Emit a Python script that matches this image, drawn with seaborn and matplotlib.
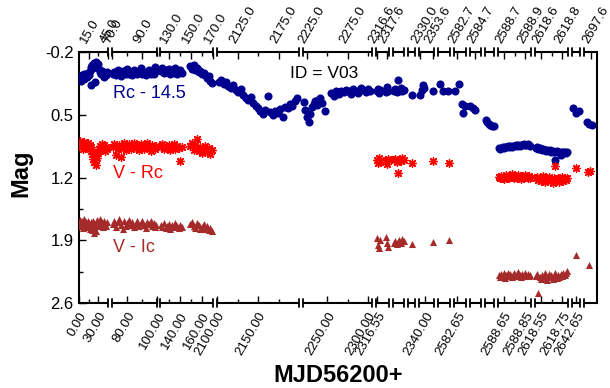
import numpy as np
import pandas as pd
import matplotlib
matplotlib.use("Agg")
import matplotlib.pyplot as plt
import seaborn as sns

# ---------------- data (MJD - 56200, magnitude) ----------------
# early season: shared epochs for Rc, V-Rc, V-Ic
e1 = [0.5, 1.8, 3.0, 4.3, 5.6, 7.0, 8.4, 9.8, 11.2, 12.6, 14.0, 15.4, 16.8, 18.0, 19.2, 20.4,
      21.6, 22.8, 24.0, 25.2, 26.4, 27.6, 29.0, 30.5, 32.0, 33.6, 35.2, 36.8, 38.4, 40.0, 41.6, 43.2]
r1 = [0.11, 0.08, 0.12, 0.06, 0.09, 0.05, 0.10, 0.07, 0.04, 0.08, 0.03, 0.06, 0.01, -0.03, 0.17, -0.06,
      -0.02, -0.08, -0.05, 0.13, -0.09, -0.04, -0.07, -0.01, 0.02, 0.05, 0.01, 0.04, 0.08, 0.03, 0.06, 0.02]
v1 = [0.84, 0.79, 0.86, 0.82, 0.88, 0.85, 0.80, 0.87, 0.83, 0.86, 0.81, 0.88, 0.84, 0.90, 0.86, 0.94,
      0.99, 0.92, 1.03, 0.96, 1.06, 0.98, 0.93, 0.88, 0.85, 0.89, 0.83, 0.87, 0.84, 0.90, 0.86, 0.88]
i1 = [1.71, 1.67, 1.74, 1.69, 1.76, 1.72, 1.66, 1.73, 1.70, 1.75, 1.68, 1.72, 1.77, 1.70, 1.74, 1.79,
      1.69, 1.82, 1.75, 1.72, 1.80, 1.67, 1.74, 1.71, 1.66, 1.73, 1.70, 1.75, 1.69, 1.72, 1.74, 1.70]

e2 = [70.4, 71.5, 72.6, 73.7, 74.8, 75.9, 77.0, 78.1, 79.2, 80.3, 81.4, 82.5, 83.6, 84.7, 85.8, 86.9,
      88.0, 89.1, 90.2, 91.3, 92.4, 93.5, 94.6, 95.7, 96.8, 97.9, 98.8, 99.6]
r2 = [0.05, 0.02, 0.06, 0.00, 0.04, 0.07, 0.01, 0.03, 0.05, -0.01, 0.04, 0.02, 0.06, 0.00, 0.03, 0.05,
      0.01, -0.02, 0.04, 0.02, 0.06, 0.03, 0.00, 0.05, 0.02, 0.04, -0.03, 0.01]
v2 = [0.86, 0.83, 0.95, 0.88, 0.84, 0.97, 0.87, 0.82, 0.89, 0.85, 0.83, 0.88, 0.86, 0.81, 0.87, 0.84,
      0.89, 0.83, 0.86, 0.88, 0.85, 0.82, 0.87, 0.90, 0.84, 0.86, 0.88, 0.85]
i2 = [1.72, 1.68, 1.75, 1.70, 1.66, 1.73, 1.77, 1.69, 1.74, 1.71, 1.67, 1.73, 1.70, 1.75, 1.72, 1.68,
      1.74, 1.71, 1.69, 1.73, 1.76, 1.70, 1.72, 1.68, 1.74, 1.71, 1.75, 1.73]

e3 = [122.5, 124.0, 125.5, 127.0, 128.5, 130.0, 131.5, 133.0, 134.5, 136.0, 137.5, 139.0, 140.5, 142.0,
      149.5, 151.0, 152.5, 154.0, 155.5, 157.0, 158.5, 160.0, 161.5, 163.0, 164.5, 166.0, 167.5, 169.0]
r3 = [0.01, -0.02, 0.03, 0.00, 0.02, -0.01, 0.04, 0.01, 0.03, -0.02, 0.05, 0.02, 0.00, 0.03,
      -0.04, -0.01, -0.05, 0.00, -0.02, 0.02, 0.01, 0.04, 0.03, 0.06, 0.09, 0.07, 0.12, 0.15]
v3 = [0.86, 0.83, 0.88, 0.85, 0.87, 0.84, 0.89, 0.86, 0.83, 0.88, 0.85, 0.87, 1.02, 0.86,
      0.85, 0.81, 0.89, 0.84, 0.77, 0.90, 0.86, 0.93, 0.88, 0.85, 0.91, 0.87, 0.94, 0.89]
i3 = [1.73, 1.75, 1.71, 1.76, 1.74, 1.72, 1.77, 1.73, 1.75, 1.71, 1.74, 1.76, 1.73, 1.75,
      1.72, 1.70, 1.74, 1.76, 1.71, 1.73, 1.78, 1.75, 1.72, 1.77, 1.74, 1.79, 1.76, 1.80]

# Rc only (no colour data)
s4_t = [2102, 2105, 2108, 2111, 2114, 2117, 2120, 2123, 2126, 2129, 2132, 2135, 2138, 2141, 2144, 2147,
        2150, 2153, 2156, 2159, 2162, 2165, 2168, 2171, 2174, 2177, 2180, 2183, 2186, 2189, 2192, 2195, 2198]
s4_m = [0.14, 0.11, 0.16, 0.13, 0.18, 0.20, 0.17, 0.22, 0.25, 0.21, 0.28, 0.31, 0.34, 0.30, 0.37, 0.40,
        0.43, 0.46, 0.49, 0.45, 0.29, 0.47, 0.50, 0.46, 0.48, 0.44, 0.52, 0.41, 0.43, 0.38, 0.40, 0.35, 0.31]
s5_t = [2221, 2223, 2225, 2227, 2229, 2231, 2233, 2235, 2237, 2239, 2241, 2244, 2247, 2255, 2258,
        2261, 2264, 2267, 2270, 2273, 2276, 2279, 2282, 2285, 2288, 2291, 2294, 2297, 2300, 2303]
s5_m = [0.36, 0.45, 0.52, 0.58, 0.49, 0.41, 0.38, 0.35, 0.39, 0.33, 0.31, 0.37, 0.46, 0.26, 0.29,
        0.24, 0.27, 0.23, 0.25, 0.22, 0.24, 0.27, 0.21, 0.23, 0.26, 0.20, 0.22, 0.25, 0.21, 0.23]

# late season
e6 = [2316.5, 2316.6, 2316.7, 2316.8, 2317.5, 2317.6, 2317.7]
r6 = [0.24, 0.21, 0.26, 0.22, 0.25, 0.19, 0.23]
v6 = [1.00, 1.04, 0.98, 1.03, 1.01, 1.05, 0.99]
i6 = [1.88, 1.95, 1.99, 1.90, 1.86, 1.93, 1.97]
e7 = [2318.5, 2318.65, 2318.8, 2318.95, 2319.1, 2319.25, 2319.4, 2319.55]
r7 = [0.24, 0.21, 0.25, 0.11, 0.23, 0.20, 0.24, 0.22]
v7 = [1.01, 0.99, 1.03, 1.15, 1.00, 1.02, 0.98, 1.01]
i7 = [1.93, 1.91, 1.94, 1.92, 1.90, 1.93, 1.89, 1.91]
e8 = [2322.0]
r8 = [0.28]
v8 = [1.04]
i8 = [1.94]
e9r = [2330.0, 2333.0, 2336.0, 2338.0, 2355.0]
r9 = [0.28, 0.22, 0.17, 0.20, 0.24]
e9c = [2355.0]
v9 = [1.02]
i9 = [1.92]
e10r = [2371.0, 2375.0, 2381.0]
r10 = [0.16, 0.24, 0.23]
e10c = [2381.5]
v10 = [1.04]
i10 = [1.90]
e11 = [2582.617, 2582.683, 2582.733, 2582.75, 2582.783]
r11 = [0.24, 0.16, 0.38, 0.48, 0.40]
e12 = [2584.60, 2584.655, 2584.69]
r12 = [0.40, 0.43, 0.45]
e13 = [2586.62, 2586.65, 2586.69, 2586.72, 2586.76, 2586.79]
r13 = [0.56, 0.58, 0.60, 0.61, 0.62, 0.63]

e14 = [2588.605, 2588.617, 2588.629, 2588.641, 2588.653, 2588.665, 2588.677, 2588.689, 2588.701,
       2588.713, 2588.725, 2588.737, 2588.749, 2588.761, 2588.773, 2588.785, 2588.797, 2588.809,
       2588.821, 2588.833, 2588.845, 2588.857, 2588.869, 2588.881, 2588.893]
r14 = [0.87, 0.88, 0.87, 0.86, 0.87, 0.86, 0.86, 0.85, 0.86, 0.85, 0.86, 0.85, 0.85, 0.84, 0.85,
       0.84, 0.85, 0.84, 0.84, 0.83, 0.84, 0.84, 0.83, 0.84, 0.85]
v14 = [1.19, 1.21, 1.18, 1.20, 1.22, 1.19, 1.17, 1.20, 1.21, 1.18, 1.16, 1.19, 1.21, 1.18, 1.20,
       1.17, 1.19, 1.22, 1.18, 1.20, 1.17, 1.19, 1.21, 1.18, 1.20]
i14 = [2.29, 2.31, 2.28, 2.30, 2.27, 2.32, 2.29, 2.26, 2.30, 2.28, 2.31, 2.29, 2.27, 2.30, 2.28,
       2.25, 2.29, 2.31, 2.28, 2.30, 2.27, 2.29, 2.28, 2.30, 2.29]

e15 = [2618.505, 2618.517, 2618.529, 2618.541, 2618.553, 2618.565, 2618.577, 2618.589, 2618.601,
       2618.613, 2618.625, 2618.637, 2618.649, 2618.661, 2618.673, 2618.685, 2618.697, 2618.709,
       2618.721, 2618.733, 2618.745, 2618.757, 2618.769, 2618.781, 2618.793]
r15 = [0.87, 0.86, 0.88, 0.87, 0.88, 0.89, 0.88, 0.89, 0.90, 0.89, 0.90, 0.89, 0.91, 0.90, 0.91,
       1.00, 0.90, 0.92, 0.91, 0.95, 0.92, 0.91, 0.92, 0.93, 0.92]
v15 = [1.21, 1.19, 1.23, 1.20, 1.24, 1.22, 1.18, 1.25, 1.21, 1.23, 1.19, 1.24, 1.22, 1.26, 1.20,
       1.07, 1.23, 1.21, 1.25, 1.22, 1.19, 1.24, 1.21, 1.23, 1.20]
i15 = [2.30, 2.28, 2.49, 2.31, 2.33, 2.29, 2.32, 2.27, 2.30, 2.34, 2.28, 2.31, 2.29, 2.33, 2.30,
       2.27, 2.32, 2.29, 2.31, 2.28, 2.30, 2.26, 2.29, 2.27, 2.24]

e16r = [2642.61, 2642.645, 2642.69]
r16 = [0.43, 0.48, 0.46]
e16c = [2642.645]
v16 = [1.09]
i16 = [2.07]
e17r = [2697.55, 2697.58, 2697.62]
r17 = [0.58, 0.60, 0.61]
e17v = [2697.56, 2697.59]
v17 = [1.14, 1.13]
e17i = [2697.58]
i17 = [2.18]

RC_ERR = 0.03

BOTTOM_TICKS = [0, 30, 80, 100, 140, 160, 2100, 2150, 2250, 2300, 2316.55, 2340, 2582.65,
                2588.65, 2588.85, 2618.55, 2618.75, 2642.65]
BOTTOM_LABELS = ["0.00", "30.00", "80.00", "100.00", "140.00", "160.00", "2100.00", "2150.00",
                 "2250.00", "2300.00", "2316.55", "2340.00", "2582.65", "2588.65", "2588.85",
                 "2618.55", "2618.75", "2642.65"]
TOP_TICKS = [15, 45, 70, 90, 130, 150, 170, 2125, 2175, 2225, 2275, 2316.55, 2317.6, 2330, 2353.6,
             2582.65, 2584.7, 2588.65, 2588.85, 2618.55, 2618.75, 2697.6]
TOP_LABELS = ["15.0", "45.0", "70.0", "90.0", "130.0", "150.0", "170.0", "2125.0", "2175.0", "2225.0",
              "2275.0", "2316.6", "2317.6", "2330.0", "2353.6", "2582.7", "2584.7", "2588.7",
              "2588.9", "2618.6", "2618.8", "2697.6"]
BOTTOM_MINOR = [15, 90, 130, 150, 2125, 2175, 2275, 2588.75, 2618.65]
TOP_MINOR = [30, 80, 100, 140, 160, 2150, 2250, 2300, 2588.75, 2618.65]
Y_TICKS = [-0.2, 0.5, 1.2, 1.9, 2.6]
Y_LABELS = ["-0.2", "0.5", "1.2", "1.9", "2.6"]
Y_MINOR = [0.15, 0.85, 1.55, 2.25]

# ---------------- layout of the broken axis: (data_lo, data_hi, px_lo, px_hi) ----------------
SEGMENTS = [
    (0, 45, 79, 108), (70, 100, 112, 157), (122, 170, 160, 213), (2100, 2200, 217, 299),
    (2220, 2305, 303, 372), (2316.4, 2317.8, 376, 389), (2318.4, 2319.6, 393, 404),
    (2321.5, 2322.5, 408, 415), (2328, 2356, 419, 434), (2369, 2383, 438, 450),
    (2582.6, 2582.8, 454, 466), (2584.6, 2584.8, 470, 481), (2586.6, 2586.8, 485, 494),
    (2588.6, 2588.9, 498, 531), (2618.5, 2618.8, 535, 568), (2642.6, 2642.7, 572, 580),
    (2697.5, 2697.7, 584, 597),
]
d_knots = np.array([v for s in SEGMENTS for v in s[:2]], float)
p_knots = np.array([v for s in SEGMENTS for v in s[2:]], float)


def fwd(x):
    return np.interp(np.asarray(x, float), d_knots, p_knots)


def inv(p):
    return np.interp(np.asarray(p, float), p_knots, d_knots)


NAVY = "#00008f"
RED = "#ff0000"
BROWN = "#a52a2a"

rc = pd.DataFrame({"MJD": e1 + e2 + e3 + s4_t + s5_t + e6 + e7 + e8 + e9r + e10r + e11 + e12 + e13
                   + e14 + e15 + e16r + e17r,
                   "Mag": r1 + r2 + r3 + s4_m + s5_m + r6 + r7 + r8 + r9 + r10 + r11 + r12 + r13
                   + r14 + r15 + r16 + r17})
vr = pd.DataFrame({"MJD": e1 + e2 + e3 + e6 + e7 + e8 + e9c + e10c + e14 + e15 + e16c + e17v,
                   "Mag": v1 + v2 + v3 + v6 + v7 + v8 + v9 + v10 + v14 + v15 + v16 + v17})
vi = pd.DataFrame({"MJD": e1 + e2 + e3 + e6 + e7 + e8 + e9c + e10c + e14 + e15 + e16c + e17i,
                   "Mag": i1 + i2 + i3 + i6 + i7 + i8 + i9 + i10 + i14 + i15 + i16 + i17})

sns.set_theme(style="white")
plt.rcParams["font.family"] = ["Liberation Sans", "DejaVu Sans"]
plt.rcParams["text.color"] = "black"
plt.rcParams["axes.labelcolor"] = "black"
plt.rcParams["xtick.color"] = "black"
plt.rcParams["ytick.color"] = "black"
plt.rcParams["axes.edgecolor"] = "black"

W, H = 610, 388
fig = plt.figure(figsize=(W / 100, H / 100), dpi=100)
ax = fig.add_axes([79 / W, (H - 303) / H, (597 - 79) / W, (303 - 52) / H])

ax.errorbar(rc["MJD"], rc["Mag"], yerr=RC_ERR, fmt="none", ecolor=NAVY, elinewidth=0.9, zorder=2)
sns.scatterplot(data=rc, x="MJD", y="Mag", ax=ax, color=NAVY, s=34, linewidth=0, zorder=3)
sns.scatterplot(data=vr, x="MJD", y="Mag", ax=ax, color=RED, marker=(8, 2, 0), s=30, linewidth=1.0, zorder=3)
sns.scatterplot(data=vi, x="MJD", y="Mag", ax=ax, color=BROWN, marker="^", s=26, linewidth=0, zorder=3)

ax.set_xscale("function", functions=(fwd, inv))
XLIM = (SEGMENTS[0][0], SEGMENTS[-1][1])
ax.set_xlim(*XLIM)
ax.set_ylim(2.6, -0.2)

# y axis
ax.set_yticks(Y_TICKS)
ax.set_yticklabels(Y_LABELS)
ax.set_yticks(Y_MINOR, minor=True)
ax.tick_params(axis="y", which="major", direction="in", length=5, width=1, labelsize=12, pad=4,
               colors="black", left=True)
ax.tick_params(axis="y", which="minor", direction="in", length=3, width=1, left=True, colors="black")

# bottom axis
ax.set_xticks(BOTTOM_TICKS)
ax.set_xticklabels(BOTTOM_LABELS, rotation=60, ha="right", va="top", rotation_mode="anchor", fontsize=9.5)
ax.set_xticks(BOTTOM_MINOR, minor=True)
ax.tick_params(axis="x", which="major", direction="in", length=5, width=1, pad=5, bottom=True, colors="black")
ax.tick_params(axis="x", which="minor", direction="in", length=3, width=1, bottom=True, colors="black")

# top axis
ax2 = ax.twiny()
ax2.set_xscale("function", functions=(fwd, inv))
ax2.set_xlim(*XLIM)
ax2.set_xticks(TOP_TICKS)
ax2.set_xticklabels(TOP_LABELS, rotation=60, ha="left", va="bottom", rotation_mode="anchor", fontsize=9.5)
ax2.set_xticks(TOP_MINOR, minor=True)
ax2.tick_params(axis="x", which="major", direction="in", length=5, width=1, pad=5, top=True, colors="black")
ax2.tick_params(axis="x", which="minor", direction="in", length=3, width=1, top=True, colors="black")
for sp in ax2.spines.values():
    sp.set_visible(False)

for name in ("top", "bottom"):
    ax.spines[name].set_visible(False)
for name in ("left", "right"):
    ax.spines[name].set_linewidth(1.5)
    ax.spines[name].set_color("black")

# broken axis lines with break marks
xt = ax.get_xaxis_transform()
for k, (lo, hi, plo, phi) in enumerate(SEGMENTS):
    for yy in (0, 1):
        ax.plot([lo, hi], [yy, yy], transform=xt, color="black", lw=1.5, clip_on=False,
                solid_capstyle="butt", zorder=5)
        ends = []
        if k > 0:
            ends.append(lo)
        if k < len(SEGMENTS) - 1:
            ends.append(hi)
        for xx in ends:
            ax.plot([xx, xx], [yy - 0.017, yy + 0.017], transform=xt, color="black", lw=1.3,
                    clip_on=False, zorder=5)

# labels
ax.set_xlabel("MJD56200+", fontsize=17, fontweight="bold", va="center", color="black")
ax.xaxis.set_label_coords(0.5, (303 - 376) / 251)
ax.set_ylabel("Mag", fontsize=17, fontweight="bold", va="center", color="black")
ax.yaxis.set_label_coords((21 - 79) / 518, (303 - 173) / 251)

ax.text((113 - 79) / 518, (303 - 93) / 251, "Rc - 14.5", transform=ax.transAxes, color=NAVY,
        fontsize=13, ha="left", va="center")
ax.text((113 - 79) / 518, (303 - 174) / 251, "V - Rc", transform=ax.transAxes, color=RED,
        fontsize=13, ha="left", va="center")
ax.text((113 - 79) / 518, (303 - 247) / 251, "V - Ic", transform=ax.transAxes, color=BROWN,
        fontsize=13, ha="left", va="center")
ax.text((290 - 79) / 518, (303 - 73) / 251, "ID = V03", transform=ax.transAxes, color="black",
        fontsize=12.5, ha="left", va="center")

fig.savefig("out.png", dpi=100)
